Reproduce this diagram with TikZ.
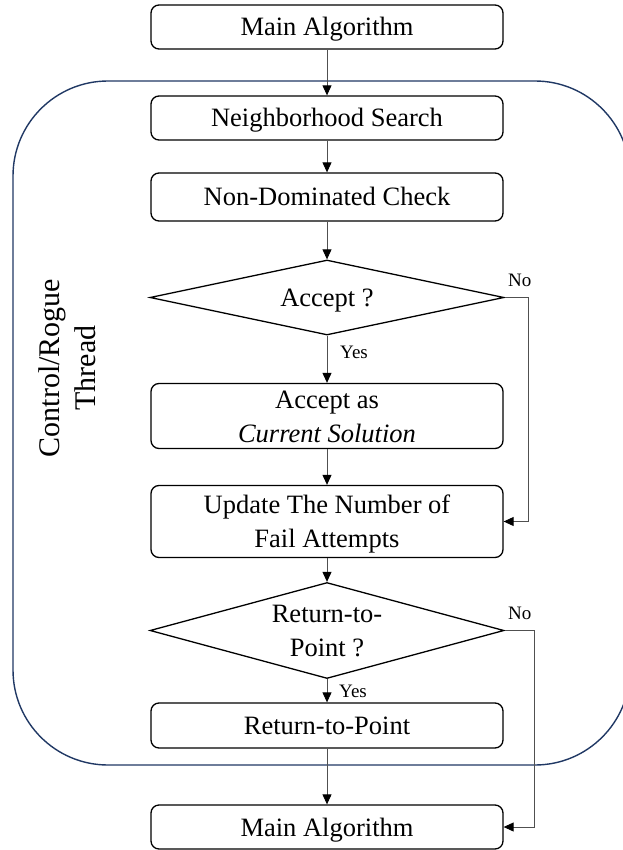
\documentclass[tikz,border=0pt]{standalone}
\usepackage{fontspec}
\setmainfont{Liberation Serif}
\usetikzlibrary{arrows.meta,shapes.geometric}
\definecolor{navy}{HTML}{203864}
\definecolor{conn}{HTML}{505050}
\begin{document}
\begin{tikzpicture}[x=1pt,y=-1pt,
  boxfont/.style={font=\fontsize{26.5}{34}\selectfont},
  oneline/.style={text height=24pt, text depth=6pt},
  twoline/.style={text height=58pt, text depth=6pt},
  procbox/.style={draw=black, line width=1.3pt, rounded corners=8pt, minimum width=352pt, inner sep=0pt, align=center, boxfont},
  decision/.style={draw=black, line width=1.3pt, diamond, inner sep=0pt, align=center, boxfont},
  conn/.style={draw=conn, line width=0.9pt, -{Triangle[length=10pt,width=9pt,fill=black,color=black]}},
  lbl/.style={font=\fontsize{19}{21}\selectfont, inner sep=0pt}
]
\useasboundingbox (0,0) rectangle (622,850);
\draw[navy, line width=1.4pt, rounded corners=95pt] (13,81) rectangle (630,765);

\node[procbox, oneline, minimum height=44pt] (main1) at (327,27) {Main Algorithm};
\node[procbox, oneline, minimum height=44pt] (ns) at (327,118) {Neighborhood Search};
\node[procbox, oneline, minimum height=48pt] (ndc) at (327,197) {Non-Dominated Check};
\node[decision, oneline, minimum width=354pt, minimum height=75pt, aspect=4.7] (acc) at (327,297.5) {Accept ?};
\node[procbox, twoline, minimum height=65pt] (cur) at (327,416) {Accept as\\\textit{Current Solution}};
\node[procbox, twoline, minimum height=72pt] (upd) at (327,521.5) {Update The Number of\\Fail Attempts};
\node[decision, twoline, minimum width=354pt, minimum height=96pt, aspect=3.7] (ret) at (327,630.5) {Return-to-\\Point ?};
\node[procbox, oneline, minimum height=45pt] (rtp) at (327,725.5) {Return-to-Point};
\node[procbox, oneline, minimum height=44pt] (main2) at (327,827) {Main Algorithm};

\node[rotate=90, align=center, font=\fontsize{30}{36}\selectfont, inner sep=0pt] (thr) at (67,368) {Control/Rogue\\Thread};

\coordinate (c1) at (528,297.5);
\coordinate (c2) at (528,521.5);
\coordinate (c3) at (534,630.5);
\coordinate (c4) at (534,827);

\draw[conn] (main1) -- (ns);
\draw[conn] (ns) -- (ndc);
\draw[conn] (ndc) -- (acc);
\draw[conn] (acc) -- (cur);
\draw[conn] (cur) -- (upd);
\draw[conn] (upd) -- (ret);
\draw[conn] (ret) -- (rtp);
\draw[conn] (rtp) -- (main2);
\draw[conn] (acc.east) -- (c1) -- (c2) -- (upd.east);
\draw[conn] (ret.east) -- (c3) -- (c4) -- (main2.east);

\node[lbl, anchor=base west] (y1) at (340,358) {Yes};
\node[lbl, anchor=base west] (y2) at (339,697) {Yes};
\node[lbl, anchor=base west] (n1) at (508,286) {No};
\node[lbl, anchor=base west] (n2) at (508,619) {No};
\end{tikzpicture}
\end{document}
